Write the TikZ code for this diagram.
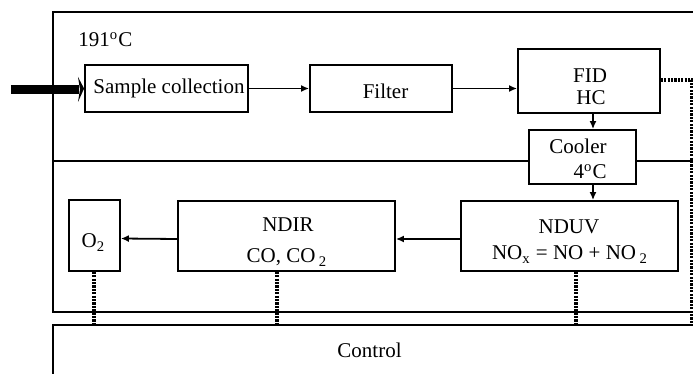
\documentclass[tikz,border=0pt]{standalone}
\usepackage{fontspec}
\setmainfont{Liberation Serif}
\usetikzlibrary{arrows.meta}
\begin{document}
\begin{tikzpicture}[x=0.5pt,y=-0.5pt,
  box/.style={draw, line width=0.9pt, inner sep=0pt, fill=white},
  txt/.style={font=\fontsize{10.5pt}{12pt}\selectfont, inner sep=0pt, anchor=base},
  arr/.style={-{Latex[length=4pt,width=3.5pt]}, line width=0.9pt},
  dots/.style={line width=1.6pt, dash pattern=on 1.1pt off 0.6pt},
  frame/.style={line width=0.9pt}]
\useasboundingbox (0,0) rectangle (693,374);
\clip (0,0) rectangle (693,374);
% outer region
\draw[frame] (720,12) -- (53,12) -- (53,312) -- (720,312);
% boxes
\node[box, minimum width=81.5pt, minimum height=23.5pt] (sample) at (166.5,88.5) {};
\node[box, minimum width=71pt, minimum height=23.5pt] (filter) at (381,88.5) {};
\node[box, minimum width=71pt, minimum height=32pt] (fid) at (589,81) {};
\node[box, minimum width=53.5pt, minimum height=27pt] (cooler) at (582.5,157) {};
\node[box, minimum width=108.5pt, minimum height=35pt] (nduv) at (569.5,236) {};
\node[box, minimum width=108.5pt, minimum height=35pt] (ndir) at (286.5,236) {};
\node[box, minimum width=25.5pt, minimum height=35.5pt] (o2) at (94.5,235.5) {};
\node[box, minimum width=340pt, minimum height=40pt, anchor=north west] (control) at (52,324) {};
% divider
\coordinate (divy) at (0,161);
\coordinate (divr) at (720,161);
\draw[frame] (53,161) -- (cooler.west |- divy);
\draw[frame] (cooler.east |- divy) -- (divr);
% texts
\node[txt, anchor=base west] (temp) at (78,47) {191\textsuperscript{o}C};
\node[txt] (tsample) at (169,94) {Sample collection};
\node[txt] (tfilter) at (385.5,99) {Filter};
\node[txt] (tfid) at (590,83) {FID};
\node[txt] (thc) at (591,105) {HC};
\node[txt, anchor=base east] (tcooler) at (607,154) {Cooler};
\node[txt, anchor=base east] (tcool) at (607,179) {4\textsuperscript{o}C};
\node[txt] (tnduv) at (569,234) {NDUV};
\node[txt] (tnox) at (570,260) {NO\textsubscript{x} = NO + NO\,\textsubscript{2}};
\node[txt] (tndir) at (288,232) {NDIR};
\node[txt] (tco) at (287,263) {CO, CO\,\textsubscript{2}};
\node[txt] (to2) at (93.5,248) {O\textsubscript{2}};
\node[txt] (tcontrol) at (369.5,358) {Control};
% thick inlet arrow
\coordinate (inlet) at (11,89.5);
\draw[line width=4.5pt] (inlet) -- (79,89.5);
\fill (78,77) -- (sample.west) -- (78,102) -- (80,89.5) -- cycle;
% flow arrows
\coordinate (col) at (593,0);
\draw[arr] (sample.east) -- (filter.west);
\draw[arr] (filter.east) -- (filter.east -| fid.west);
\draw[arr] (fid.south -| col) -- (cooler.north -| col);
\draw[arr] (cooler.south -| col) -- (nduv.north -| col);
\draw[arr] ([yshift=-1.5pt]nduv.west) -- ([yshift=-1.5pt]ndir.east);
\draw[arr] ([yshift=-1.5pt]ndir.west) -- ([yshift=-1.5pt]o2.east);
% control lines
\coordinate (cndir) at (277,0);
\coordinate (cnduv) at (576,0);
\coordinate (cright) at (692,0);
\draw[dots] (94,0 |- o2.south) -- (94,0 |- control.north);
\draw[dots] (ndir.south -| cndir) -- (control.north -| cndir);
\draw[dots] (nduv.south -| cnduv) -- (control.north -| cnduv);
\draw[dots] ([yshift=0.5pt]fid.east) -- ([yshift=0.5pt]fid.east -| cright) -- (control.north -| cright);
\end{tikzpicture}
\end{document}
